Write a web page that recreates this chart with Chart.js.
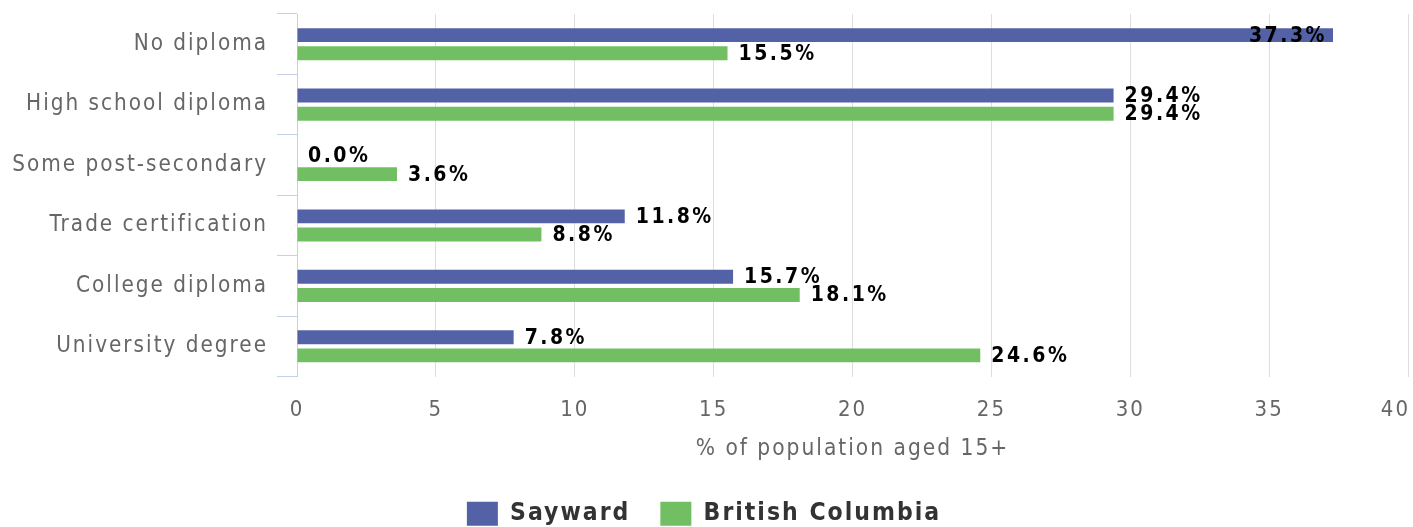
<!DOCTYPE html>
<html>
<head>
<meta charset="utf-8">
<script src="https://cdn.jsdelivr.net/npm/chart.js@4"></script>
<style>
  html, body { margin: 0; padding: 0; background: #fff; }
  #wrap { width: 1413px; height: 527px; }
</style>
</head>
<body>
<div id="wrap"><canvas id="eduChart" width="1413" height="527"></canvas></div>
<script>
const categories = ['No diploma', 'High school diploma', 'Some post-secondary', 'Trade certification', 'College diploma', 'University degree'];
const sayward = [37.3, 29.4, 0.0, 11.8, 15.7, 7.8];
const britishColumbia = [15.5, 29.4, 3.6, 8.8, 18.1, 24.6];
const seriesNames = ['Sayward', 'British Columbia'];
const axisTitle = '% of population aged 15+';

const FONT = "'DejaVu Sans Condensed', 'DejaVu Sans', sans-serif";

// spacing between letters, the reference text is a bit spread out
const spacing = {
    id: 'spacing',
    beforeLayout(chart) { chart.ctx.letterSpacing = '2px'; },
    beforeDraw(chart) {
        chart.ctx.letterSpacing = '2px';
        // last x label is kept inside the canvas, right aligned on its tick
        const items = chart.scales.x.getLabelItems();
        const last = items[items.length - 1];
        if (last) {
            last.options.textAlign = 'right';
            last.options.translation[0] = chart.chartArea.right + 2;
        }
    }
};

// value labels at the end of each bar, pushed inside when they do not fit
const barLabels = {
    id: 'barLabels',
    afterDatasetsDraw(chart) {
        const ctx = chart.ctx;
        const right = chart.chartArea.right;
        ctx.save();
        ctx.font = 'bold 21px ' + FONT;
        ctx.letterSpacing = '2.5px';
        ctx.fillStyle = '#000';
        ctx.textBaseline = 'middle';
        chart.data.datasets.forEach((ds, i) => {
            const meta = chart.getDatasetMeta(i);
            meta.data.forEach((bar, j) => {
                const text = ds.data[j].toFixed(1) + '%';
                const w = ctx.measureText(text).width;
                if (bar.x + 11 + w > right) {
                    ctx.textAlign = 'right';
                    ctx.fillText(text, bar.x - 6, bar.y + 1);
                } else {
                    ctx.textAlign = 'left';
                    ctx.fillText(text, bar.x + 11, bar.y + 1);
                }
            });
        });
        ctx.restore();
    }
};

// no extra room for half tick labels, the plot area is fixed by hand
function noPadding(scale) {
    scale.paddingLeft = 0;
    scale.paddingRight = 0;
    scale.paddingTop = 0;
    scale.paddingBottom = 0;
}

const ctx = document.getElementById('eduChart').getContext('2d');
const eduChart = new Chart(ctx, {
    type: 'bar',
    data: {
        labels: categories,
        datasets: [{
            label: seriesNames[0],
            data: sayward,
            backgroundColor: '#5362a6',
            borderWidth: 0
        }, {
            label: seriesNames[1],
            data: britishColumbia,
            backgroundColor: '#72bf63',
            borderWidth: 0
        }]
    },
    options: {
        indexAxis: 'y',
        responsive: false,
        animation: false,
        categoryPercentage: 0.6,
        barPercentage: 0.77,
        layout: {
            padding: { top: 14, right: 5, left: 0, bottom: -9 }
        },
        plugins: {
            legend: {
                position: 'bottom',
                labels: {
                    boxWidth: 31,
                    boxHeight: 24,
                    padding: 30,
                    color: '#333333',
                    font: { family: FONT, size: 24.5, weight: 'bold' }
                }
            },
            tooltip: { enabled: false }
        },
        scales: {
            x: {
                min: 0,
                max: 40,
                ticks: {
                    stepSize: 5,
                    color: '#666666',
                    padding: 21,
                    font: { family: FONT, size: 22 }
                },
                grid: {
                    color: '#dedede',
                    drawTicks: false
                },
                border: { display: false },
                title: {
                    display: true,
                    text: axisTitle,
                    color: '#666666',
                    font: { family: FONT, size: 22.5 },
                    padding: { top: 4, bottom: 9 }
                },
                afterFit(scale) {
                    scale.height = 95;
                    noPadding(scale);
                }
            },
            y: {
                ticks: {
                    color: '#666666',
                    padding: 9,
                    font: { family: FONT, size: 22.3 }
                },
                grid: {
                    offset: true,
                    drawOnChartArea: false,
                    tickLength: 20,
                    color: '#c4d0e6'
                },
                border: { display: true, color: '#c4d0e6' },
                afterFit(scale) {
                    scale.width = 297;
                    noPadding(scale);
                }
            }
        }
    },
    plugins: [spacing, barLabels]
});
</script>
</body>
</html>
